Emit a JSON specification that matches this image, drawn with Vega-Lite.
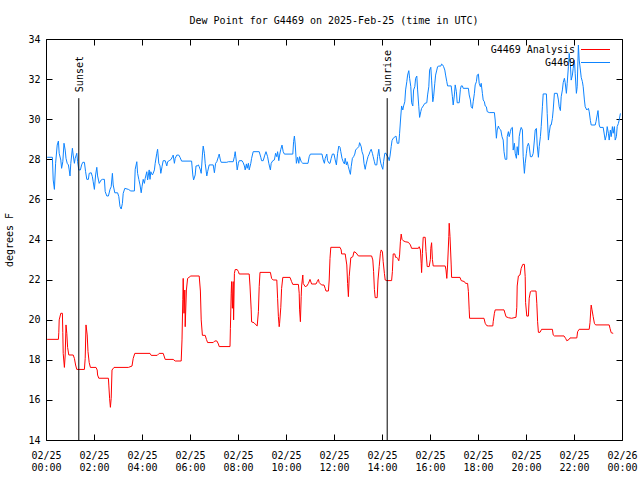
{
 "$schema": "https://vega.github.io/schema/vega-lite/v6.json",
 "width": 576,
 "height": 401,
 "autosize": {"type": "none"},
 "padding": {"left": 46, "top": 39, "right": 18, "bottom": 40},
 "background": "white",
 "title": {"text": "Dew Point for G4469 on 2025-Feb-25 (time in UTC)", "font": "DejaVu Sans Mono", "fontSize": 10, "fontWeight": "normal", "color": "black", "offset": 8},
 "config": {
  "view": {"stroke": "black", "strokeWidth": 1},
  "font": "DejaVu Sans Mono",
  "axis": {"domain": false, "grid": false, "tickColor": "black", "tickSize": -6, "labelFont": "DejaVu Sans Mono", "labelFontSize": 10, "labelColor": "black", "titleFont": "DejaVu Sans Mono", "titleFontSize": 10, "titleFontWeight": "normal", "titleColor": "black"},
  "legend": {"orient": "none", "legendX": 544, "legendY": 5, "padding": 0, "symbolType": "M-2.9,0H2.9", "symbolSize": 100, "symbolStrokeWidth": 1, "labelAlign": "right", "labelOffset": -26, "labelFont": "DejaVu Sans Mono", "labelFontSize": 10, "labelColor": "black", "rowPadding": 2}
 },
 "datasets": {
  "events": [{"time": 82, "label": "Sunset"}, {"time": 853, "label": "Sunrise"}],
  "analysis": [{"t":3,"v":19.02},{"t":31,"v":19.02},{"t":32,"v":19.35},{"t":33,"v":19.99},{"t":37,"v":20.32},{"t":41,"v":20.32},{"t":42,"v":19.37},{"t":43,"v":18.32},{"t":46,"v":17.62},{"t":48,"v":18.24},{"t":50,"v":19.74},{"t":52,"v":19.32},{"t":54,"v":18.62},{"t":57,"v":18.24},{"t":68,"v":18.24},{"t":71,"v":18.07},{"t":74,"v":17.74},{"t":77,"v":17.52},{"t":96,"v":17.52},{"t":98,"v":18.07},{"t":100,"v":19.74},{"t":103,"v":19.24},{"t":105,"v":18.41},{"t":108,"v":17.86},{"t":111,"v":17.62},{"t":125,"v":17.62},{"t":128,"v":17.49},{"t":129,"v":17.24},{"t":132,"v":17.08},{"t":156,"v":17.08},{"t":157,"v":16.74},{"t":159,"v":16.08},{"t":161,"v":15.63},{"t":163,"v":16.08},{"t":165,"v":17.49},{"t":170,"v":17.62},{"t":206,"v":17.62},{"t":215,"v":17.69},{"t":218,"v":18.07},{"t":222,"v":18.32},{"t":260,"v":18.32},{"t":263,"v":18.22},{"t":278,"v":18.22},{"t":283,"v":18.32},{"t":293,"v":18.32},{"t":298,"v":18.02},{"t":318,"v":18.02},{"t":323,"v":17.94},{"t":338,"v":17.94},{"t":340,"v":18.99},{"t":342,"v":21.02},{"t":343,"v":22.06},{"t":345,"v":20.32},{"t":347,"v":21.48},{"t":348,"v":19.65},{"t":351,"v":21.48},{"t":354,"v":22.06},{"t":362,"v":22.18},{"t":383,"v":22.18},{"t":386,"v":21.43},{"t":388,"v":19.99},{"t":391,"v":19.22},{"t":398,"v":19.22},{"t":401,"v":19.02},{"t":404,"v":18.86},{"t":418,"v":18.86},{"t":422,"v":18.94},{"t":427,"v":18.94},{"t":431,"v":18.79},{"t":433,"v":18.66},{"t":460,"v":18.66},{"t":461,"v":19.57},{"t":463,"v":21.32},{"t":464,"v":21.9},{"t":466,"v":20.57},{"t":468,"v":21.9},{"t":469,"v":19.99},{"t":471,"v":22.31},{"t":473,"v":22.5},{"t":478,"v":22.5},{"t":481,"v":22.4},{"t":483,"v":22.28},{"t":508,"v":22.28},{"t":510,"v":21.68},{"t":513,"v":20.49},{"t":514,"v":19.89},{"t":520,"v":19.85},{"t":525,"v":19.74},{"t":528,"v":19.69},{"t":531,"v":20.4},{"t":533,"v":21.65},{"t":535,"v":22.36},{"t":561,"v":22.36},{"t":564,"v":22.06},{"t":568,"v":21.98},{"t":577,"v":21.98},{"t":579,"v":21.07},{"t":581,"v":20.15},{"t":583,"v":19.65},{"t":584,"v":19.82},{"t":587,"v":20.62},{"t":589,"v":21.56},{"t":592,"v":22.11},{"t":610,"v":22.11},{"t":614,"v":21.9},{"t":617,"v":21.76},{"t":631,"v":21.76},{"t":633,"v":21.32},{"t":634,"v":20.49},{"t":636,"v":19.9},{"t":638,"v":21.15},{"t":639,"v":21.68},{"t":642,"v":22.23},{"t":643,"v":21.81},{"t":648,"v":21.65},{"t":652,"v":21.68},{"t":656,"v":21.81},{"t":660,"v":22.01},{"t":664,"v":21.78},{"t":675,"v":21.78},{"t":678,"v":21.9},{"t":681,"v":22.01},{"t":683,"v":21.85},{"t":689,"v":21.73},{"t":695,"v":21.73},{"t":698,"v":21.56},{"t":700,"v":21.43},{"t":706,"v":21.43},{"t":708,"v":21.98},{"t":710,"v":23.06},{"t":712,"v":23.61},{"t":735,"v":23.61},{"t":738,"v":23.48},{"t":739,"v":23.28},{"t":748,"v":23.28},{"t":752,"v":22.73},{"t":754,"v":21.81},{"t":756,"v":21.15},{"t":758,"v":22.15},{"t":762,"v":23.09},{"t":767,"v":23.14},{"t":770,"v":23.39},{"t":775,"v":23.34},{"t":781,"v":23.18},{"t":814,"v":23.18},{"t":817,"v":22.98},{"t":819,"v":22.4},{"t":821,"v":21.51},{"t":823,"v":21.1},{"t":828,"v":21.1},{"t":830,"v":21.98},{"t":833,"v":22.65},{"t":836,"v":23.31},{"t":838,"v":23.48},{"t":841,"v":23.39},{"t":843,"v":22.89},{"t":846,"v":22.31},{"t":848,"v":21.98},{"t":852,"v":21.95},{"t":864,"v":21.95},{"t":866,"v":22.4},{"t":868,"v":23.28},{"t":872,"v":23.28},{"t":874,"v":23.11},{"t":877,"v":23.11},{"t":879,"v":23.06},{"t":882,"v":22.94},{"t":884,"v":23.23},{"t":886,"v":23.89},{"t":888,"v":24.27},{"t":890,"v":24.01},{"t":893,"v":23.94},{"t":898,"v":23.89},{"t":906,"v":23.86},{"t":911,"v":23.73},{"t":914,"v":23.56},{"t":931,"v":23.56},{"t":933,"v":23.64},{"t":936,"v":23.48},{"t":938,"v":22.81},{"t":939,"v":22.35},{"t":941,"v":23.31},{"t":943,"v":24.11},{"t":948,"v":24.11},{"t":950,"v":23.4},{"t":953,"v":22.65},{"t":958,"v":22.65},{"t":961,"v":23.01},{"t":962,"v":23.56},{"t":964,"v":23.84},{"t":966,"v":23.01},{"t":968,"v":22.68},{"t":998,"v":22.68},{"t":1000,"v":22.48},{"t":1002,"v":22.06},{"t":1004,"v":22.73},{"t":1007,"v":24.14},{"t":1008,"v":24.81},{"t":1010,"v":24.14},{"t":1013,"v":22.73},{"t":1014,"v":22.11},{"t":1035,"v":22.11},{"t":1038,"v":21.95},{"t":1046,"v":21.9},{"t":1049,"v":21.81},{"t":1054,"v":21.81},{"t":1056,"v":21.4},{"t":1058,"v":20.49},{"t":1059,"v":20.07},{"t":1095,"v":20.07},{"t":1098,"v":19.82},{"t":1102,"v":19.7},{"t":1106,"v":19.69},{"t":1117,"v":19.69},{"t":1118,"v":19.9},{"t":1121,"v":20.32},{"t":1123,"v":20.49},{"t":1145,"v":20.49},{"t":1150,"v":20.15},{"t":1156,"v":20.1},{"t":1164,"v":20.07},{"t":1175,"v":20.12},{"t":1177,"v":20.62},{"t":1178,"v":21.68},{"t":1181,"v":22.18},{"t":1185,"v":22.23},{"t":1188,"v":22.56},{"t":1192,"v":22.76},{"t":1196,"v":22.76},{"t":1198,"v":22.15},{"t":1199,"v":20.85},{"t":1202,"v":20.18},{"t":1206,"v":20.18},{"t":1208,"v":21.07},{"t":1211,"v":21.4},{"t":1214,"v":21.43},{"t":1225,"v":21.43},{"t":1227,"v":20.82},{"t":1229,"v":19.9},{"t":1231,"v":19.37},{"t":1235,"v":19.37},{"t":1239,"v":19.52},{"t":1266,"v":19.52},{"t":1268,"v":19.24},{"t":1271,"v":19.19},{"t":1295,"v":19.19},{"t":1299,"v":19.07},{"t":1302,"v":18.95},{"t":1308,"v":19.02},{"t":1310,"v":19.09},{"t":1327,"v":19.09},{"t":1329,"v":19.4},{"t":1333,"v":19.52},{"t":1358,"v":19.52},{"t":1360,"v":19.85},{"t":1362,"v":20.49},{"t":1363,"v":20.73},{"t":1365,"v":20.49},{"t":1368,"v":20.15},{"t":1371,"v":19.82},{"t":1374,"v":19.74},{"t":1408,"v":19.74},{"t":1410,"v":19.57},{"t":1413,"v":19.35},{"t":1418,"v":19.32}],
  "obs": [{"t":3,"v":28.1},{"t":16,"v":28.1},{"t":18,"v":26.97},{"t":21,"v":26.5},{"t":24,"v":27.8},{"t":28,"v":28.71},{"t":31,"v":28.91},{"t":33,"v":28.3},{"t":37,"v":27.96},{"t":39,"v":27.55},{"t":42,"v":27.88},{"t":45,"v":28.8},{"t":48,"v":28.46},{"t":50,"v":28.05},{"t":53,"v":27.8},{"t":56,"v":27.72},{"t":58,"v":27.47},{"t":60,"v":27.17},{"t":62,"v":27.8},{"t":66,"v":28.55},{"t":68,"v":28.21},{"t":71,"v":27.8},{"t":73,"v":28.05},{"t":77,"v":28.3},{"t":79,"v":27.88},{"t":82,"v":27.47},{"t":86,"v":27.47},{"t":89,"v":27.72},{"t":92,"v":27.85},{"t":96,"v":27.85},{"t":99,"v":27.38},{"t":102,"v":27.0},{"t":106,"v":27.0},{"t":108,"v":27.3},{"t":113,"v":27.33},{"t":116,"v":27.13},{"t":118,"v":26.88},{"t":121,"v":26.5},{"t":124,"v":27.22},{"t":127,"v":27.6},{"t":129,"v":27.17},{"t":133,"v":26.8},{"t":138,"v":26.97},{"t":141,"v":27.0},{"t":146,"v":27.0},{"t":148,"v":26.39},{"t":152,"v":26.17},{"t":156,"v":26.17},{"t":160,"v":26.5},{"t":163,"v":26.63},{"t":166,"v":27.3},{"t":168,"v":26.72},{"t":172,"v":26.33},{"t":179,"v":26.33},{"t":182,"v":26.14},{"t":185,"v":25.64},{"t":188,"v":25.52},{"t":191,"v":25.8},{"t":193,"v":26.3},{"t":197,"v":26.55},{"t":206,"v":26.5},{"t":212,"v":26.42},{"t":221,"v":26.42},{"t":223,"v":27.5},{"t":227,"v":27.88},{"t":229,"v":27.3},{"t":232,"v":27.0},{"t":235,"v":26.72},{"t":238,"v":26.33},{"t":240,"v":26.63},{"t":243,"v":27.0},{"t":246,"v":26.8},{"t":248,"v":27.05},{"t":252,"v":27.38},{"t":254,"v":26.97},{"t":258,"v":27.47},{"t":260,"v":27.0},{"t":262,"v":27.38},{"t":266,"v":27.22},{"t":268,"v":27.3},{"t":271,"v":27.47},{"t":273,"v":27.8},{"t":277,"v":28.3},{"t":279,"v":28.5},{"t":282,"v":27.8},{"t":285,"v":27.67},{"t":287,"v":27.3},{"t":290,"v":27.63},{"t":293,"v":27.93},{"t":298,"v":27.93},{"t":302,"v":27.67},{"t":304,"v":27.88},{"t":308,"v":27.93},{"t":313,"v":28.0},{"t":316,"v":28.13},{"t":318,"v":28.21},{"t":321,"v":27.8},{"t":323,"v":28.05},{"t":327,"v":28.21},{"t":332,"v":28.21},{"t":335,"v":28.1},{"t":339,"v":27.91},{"t":364,"v":27.91},{"t":367,"v":27.22},{"t":369,"v":26.97},{"t":373,"v":27.22},{"t":375,"v":27.67},{"t":378,"v":27.67},{"t":381,"v":27.72},{"t":383,"v":27.63},{"t":386,"v":27.47},{"t":388,"v":27.3},{"t":391,"v":28.21},{"t":393,"v":28.66},{"t":396,"v":28.3},{"t":398,"v":27.8},{"t":402,"v":27.17},{"t":404,"v":27.38},{"t":408,"v":27.72},{"t":418,"v":27.72},{"t":421,"v":27.33},{"t":424,"v":27.8},{"t":427,"v":27.88},{"t":431,"v":28.13},{"t":433,"v":28.26},{"t":436,"v":27.96},{"t":438,"v":27.85},{"t":452,"v":27.85},{"t":456,"v":27.88},{"t":468,"v":27.88},{"t":471,"v":28.13},{"t":473,"v":28.38},{"t":476,"v":27.88},{"t":478,"v":27.47},{"t":481,"v":27.8},{"t":483,"v":27.93},{"t":490,"v":27.93},{"t":493,"v":27.83},{"t":496,"v":27.67},{"t":498,"v":27.47},{"t":501,"v":27.77},{"t":503,"v":27.55},{"t":506,"v":27.8},{"t":508,"v":27.47},{"t":512,"v":27.8},{"t":514,"v":28.05},{"t":518,"v":28.38},{"t":533,"v":28.38},{"t":537,"v":28.1},{"t":539,"v":27.93},{"t":543,"v":27.93},{"t":547,"v":28.21},{"t":550,"v":28.38},{"t":554,"v":28.13},{"t":557,"v":27.8},{"t":561,"v":27.47},{"t":563,"v":27.8},{"t":567,"v":27.93},{"t":571,"v":27.97},{"t":574,"v":28.3},{"t":577,"v":28.13},{"t":579,"v":28.38},{"t":582,"v":27.93},{"t":584,"v":28.21},{"t":587,"v":28.5},{"t":590,"v":28.71},{"t":593,"v":28.38},{"t":596,"v":28.26},{"t":617,"v":28.26},{"t":619,"v":28.88},{"t":621,"v":29.16},{"t":623,"v":28.76},{"t":626,"v":27.8},{"t":629,"v":28.1},{"t":632,"v":27.8},{"t":634,"v":28.13},{"t":638,"v":27.88},{"t":642,"v":27.8},{"t":655,"v":27.8},{"t":658,"v":28.13},{"t":661,"v":28.26},{"t":690,"v":28.26},{"t":693,"v":27.97},{"t":696,"v":27.8},{"t":698,"v":28.05},{"t":702,"v":28.26},{"t":704,"v":27.93},{"t":708,"v":27.8},{"t":710,"v":27.8},{"t":713,"v":28.05},{"t":716,"v":28.26},{"t":720,"v":28.26},{"t":723,"v":27.97},{"t":726,"v":27.72},{"t":729,"v":28.3},{"t":732,"v":28.66},{"t":735,"v":28.6},{"t":737,"v":28.38},{"t":740,"v":28.05},{"t":743,"v":27.88},{"t":746,"v":27.77},{"t":748,"v":28.05},{"t":751,"v":27.72},{"t":753,"v":27.88},{"t":756,"v":27.63},{"t":758,"v":27.47},{"t":761,"v":27.25},{"t":763,"v":27.63},{"t":766,"v":28.05},{"t":769,"v":28.13},{"t":772,"v":28.26},{"t":774,"v":28.46},{"t":778,"v":28.55},{"t":782,"v":28.63},{"t":784,"v":28.83},{"t":788,"v":28.63},{"t":790,"v":28.38},{"t":793,"v":28.21},{"t":795,"v":27.8},{"t":798,"v":27.5},{"t":800,"v":27.72},{"t":803,"v":27.97},{"t":805,"v":28.13},{"t":808,"v":28.26},{"t":810,"v":28.38},{"t":813,"v":28.5},{"t":816,"v":28.3},{"t":818,"v":28.13},{"t":821,"v":27.88},{"t":823,"v":27.72},{"t":827,"v":27.72},{"t":829,"v":28.13},{"t":832,"v":28.5},{"t":834,"v":28.13},{"t":837,"v":27.8},{"t":839,"v":27.67},{"t":842,"v":27.5},{"t":844,"v":27.88},{"t":847,"v":28.3},{"t":850,"v":28.3},{"t":853,"v":28.16},{"t":855,"v":28.13},{"t":858,"v":27.93},{"t":860,"v":28.16},{"t":863,"v":28.63},{"t":865,"v":28.93},{"t":868,"v":29.05},{"t":873,"v":29.13},{"t":875,"v":29.16},{"t":878,"v":28.8},{"t":882,"v":28.8},{"t":884,"v":29.3},{"t":887,"v":30.16},{"t":889,"v":30.66},{"t":892,"v":30.46},{"t":894,"v":30.66},{"t":897,"v":30.87},{"t":899,"v":31.46},{"t":902,"v":31.87},{"t":904,"v":32.2},{"t":907,"v":32.42},{"t":909,"v":32.04},{"t":912,"v":31.62},{"t":914,"v":30.82},{"t":917,"v":30.66},{"t":919,"v":31.46},{"t":922,"v":31.62},{"t":924,"v":32.04},{"t":927,"v":32.15},{"t":929,"v":31.46},{"t":932,"v":30.62},{"t":934,"v":30.09},{"t":937,"v":30.38},{"t":939,"v":30.54},{"t":943,"v":30.66},{"t":947,"v":30.79},{"t":952,"v":30.82},{"t":954,"v":31.21},{"t":957,"v":31.62},{"t":959,"v":32.45},{"t":962,"v":32.59},{"t":964,"v":31.95},{"t":967,"v":30.87},{"t":969,"v":31.12},{"t":972,"v":31.79},{"t":974,"v":32.2},{"t":977,"v":32.45},{"t":979,"v":32.62},{"t":982,"v":32.65},{"t":987,"v":32.65},{"t":989,"v":32.75},{"t":992,"v":32.7},{"t":994,"v":32.62},{"t":997,"v":32.45},{"t":999,"v":32.2},{"t":1002,"v":31.87},{"t":1004,"v":31.66},{"t":1013,"v":31.66},{"t":1016,"v":31.12},{"t":1018,"v":30.71},{"t":1021,"v":31.21},{"t":1023,"v":31.71},{"t":1026,"v":31.37},{"t":1028,"v":30.82},{"t":1033,"v":30.82},{"t":1036,"v":31.49},{"t":1038,"v":31.66},{"t":1041,"v":31.66},{"t":1043,"v":31.54},{"t":1056,"v":31.54},{"t":1058,"v":31.21},{"t":1061,"v":30.96},{"t":1063,"v":30.62},{"t":1066,"v":30.54},{"t":1068,"v":30.87},{"t":1071,"v":31.29},{"t":1073,"v":31.71},{"t":1076,"v":31.87},{"t":1078,"v":32.2},{"t":1081,"v":32.25},{"t":1083,"v":31.79},{"t":1086,"v":31.62},{"t":1088,"v":31.79},{"t":1091,"v":31.29},{"t":1093,"v":30.96},{"t":1096,"v":30.87},{"t":1098,"v":30.66},{"t":1101,"v":30.62},{"t":1103,"v":30.38},{"t":1108,"v":30.33},{"t":1121,"v":30.33},{"t":1123,"v":29.96},{"t":1126,"v":29.05},{"t":1128,"v":29.46},{"t":1131,"v":29.66},{"t":1133,"v":29.54},{"t":1137,"v":29.46},{"t":1140,"v":29.13},{"t":1143,"v":28.96},{"t":1145,"v":28.38},{"t":1148,"v":28.0},{"t":1152,"v":28.0},{"t":1153,"v":29.13},{"t":1156,"v":29.38},{"t":1158,"v":29.13},{"t":1161,"v":29.38},{"t":1163,"v":29.54},{"t":1166,"v":29.59},{"t":1168,"v":28.46},{"t":1171,"v":28.8},{"t":1173,"v":28.3},{"t":1176,"v":28.05},{"t":1178,"v":28.63},{"t":1181,"v":28.21},{"t":1183,"v":29.13},{"t":1186,"v":29.46},{"t":1188,"v":29.59},{"t":1191,"v":29.46},{"t":1193,"v":28.13},{"t":1196,"v":27.3},{"t":1198,"v":27.8},{"t":1201,"v":28.3},{"t":1203,"v":28.63},{"t":1206,"v":28.8},{"t":1208,"v":28.66},{"t":1211,"v":28.13},{"t":1215,"v":28.13},{"t":1218,"v":28.3},{"t":1221,"v":28.96},{"t":1223,"v":29.46},{"t":1226,"v":29.54},{"t":1228,"v":28.71},{"t":1231,"v":28.1},{"t":1233,"v":28.63},{"t":1236,"v":29.13},{"t":1238,"v":29.63},{"t":1241,"v":30.62},{"t":1243,"v":31.26},{"t":1251,"v":31.26},{"t":1253,"v":30.29},{"t":1256,"v":28.96},{"t":1258,"v":29.3},{"t":1261,"v":29.71},{"t":1263,"v":29.71},{"t":1266,"v":30.04},{"t":1268,"v":30.46},{"t":1271,"v":31.29},{"t":1278,"v":31.29},{"t":1281,"v":30.96},{"t":1283,"v":30.62},{"t":1286,"v":30.43},{"t":1288,"v":31.12},{"t":1291,"v":31.46},{"t":1293,"v":31.82},{"t":1296,"v":32.04},{"t":1298,"v":31.82},{"t":1301,"v":31.29},{"t":1303,"v":31.79},{"t":1306,"v":32.62},{"t":1308,"v":33.28},{"t":1311,"v":32.7},{"t":1313,"v":31.95},{"t":1316,"v":32.2},{"t":1318,"v":32.54},{"t":1321,"v":32.95},{"t":1323,"v":32.29},{"t":1326,"v":31.29},{"t":1328,"v":31.62},{"t":1331,"v":33.7},{"t":1333,"v":32.95},{"t":1336,"v":32.45},{"t":1338,"v":32.09},{"t":1341,"v":31.87},{"t":1343,"v":31.62},{"t":1346,"v":30.96},{"t":1348,"v":30.62},{"t":1352,"v":30.46},{"t":1356,"v":30.54},{"t":1358,"v":30.38},{"t":1361,"v":29.93},{"t":1363,"v":29.71},{"t":1373,"v":29.71},{"t":1375,"v":29.88},{"t":1378,"v":30.21},{"t":1380,"v":30.43},{"t":1383,"v":29.71},{"t":1385,"v":29.59},{"t":1393,"v":29.59},{"t":1396,"v":29.21},{"t":1398,"v":28.96},{"t":1401,"v":29.21},{"t":1403,"v":29.63},{"t":1406,"v":29.3},{"t":1408,"v":28.96},{"t":1411,"v":29.46},{"t":1413,"v":29.13},{"t":1416,"v":29.63},{"t":1418,"v":29.3},{"t":1421,"v":29.63},{"t":1423,"v":28.96},{"t":1426,"v":29.13},{"t":1428,"v":29.63},{"t":1431,"v":29.79},{"t":1433,"v":29.96},{"t":1436,"v":30.29}]
 },
 "resolve": {"axis": {"x": "independent", "y": "independent"}},
 "layer": [
  {
   "data": {"name": "analysis"},
   "mark": {"type": "line", "strokeWidth": 1},
   "encoding": {
    "x": {"field": "t", "type": "quantitative", "scale": {"domain": [0, 1440], "nice": false, "zero": false},
     "axis": {"orient": "bottom", "values": [0,120,240,360,480,600,720,840,960,1080,1200,1320,1440], "labelExpr": "[datum.value >= 1440 ? '02/26' : '02/25', (datum.value % 1440 < 600 ? '0' : '') + floor((datum.value % 1440) / 60) + ':00']", "labelPadding": 16, "labelLineHeight": 12, "labelFlush": false, "labelOverlap": false, "title": null}},
    "y": {"field": "v", "type": "quantitative", "scale": {"domain": [14, 34], "nice": false, "zero": false},
     "axis": {"orient": "left", "values": [14,16,18,20,22,24,26,28,30,32,34], "labelPadding": 12, "labelFlush": false, "title": "degrees F", "titlePadding": 13}},
    "color": {"datum": "G4469 Analysis", "type": "nominal", "scale": {"domain": ["G4469 Analysis", "G4469"], "range": ["#ff0000", "#0d84ff"]}, "legend": {"title": null}}
   }
  },
  {
   "data": {"name": "obs"},
   "mark": {"type": "line", "strokeWidth": 1},
   "encoding": {
    "x": {"field": "t", "type": "quantitative", "axis": {"orient": "top", "values": [0,120,240,360,480,600,720,840,960,1080,1200,1320,1440], "labels": false, "title": null}},
    "y": {"field": "v", "type": "quantitative", "axis": {"orient": "right", "values": [14,16,18,20,22,24,26,28,30,32,34], "labels": false, "title": null}},
    "color": {"datum": "G4469", "type": "nominal"}
   }
  },
  {
   "data": {"name": "events"},
   "mark": {"type": "rule", "color": "black", "strokeWidth": 1},
   "encoding": {
    "x": {"field": "time", "type": "quantitative", "axis": null},
    "y": {"datum": 14, "axis": null},
    "y2": {"datum": 31.05}
   }
  },
  {
   "data": {"name": "events"},
   "mark": {"type": "text", "angle": 270, "align": "left", "baseline": "middle", "dx": 6, "dy": 1, "fontSize": 10, "font": "DejaVu Sans Mono", "color": "black"},
   "encoding": {
    "x": {"field": "time", "type": "quantitative", "axis": null},
    "y": {"datum": 31.05, "axis": null},
    "text": {"field": "label"}
   }
  }
 ]
}
